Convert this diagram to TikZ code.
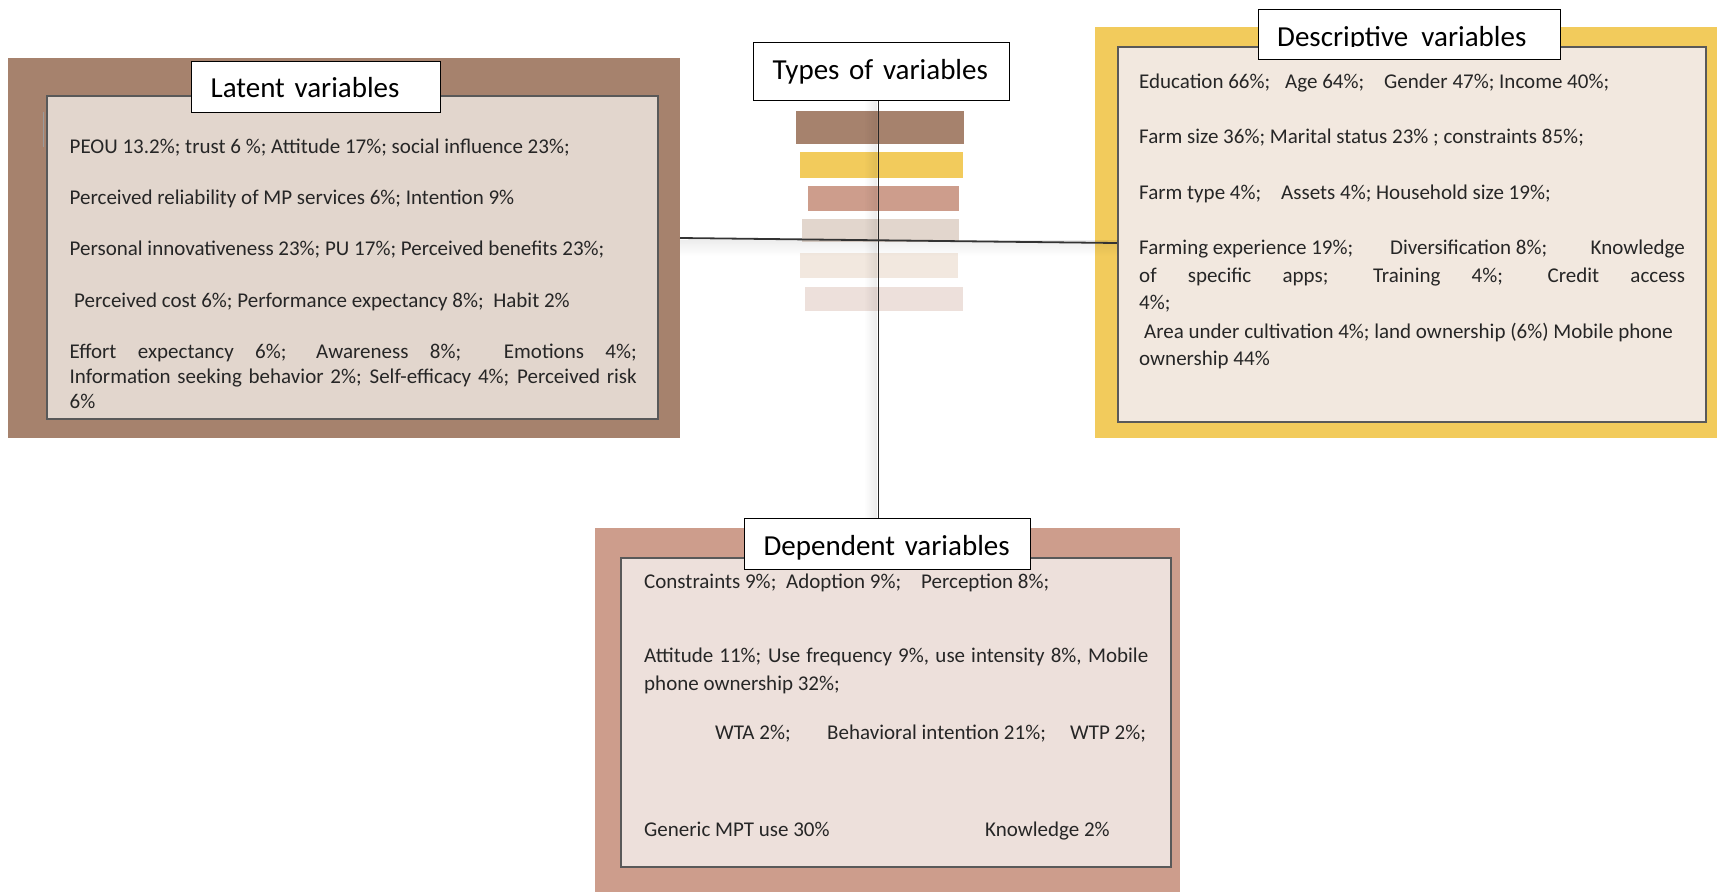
\documentclass[tikz,border=0pt]{standalone}
\usepackage{fontspec}
\setmainfont{Carlito}
\usetikzlibrary{fadings}

\definecolor{latbrown}{HTML}{A6826D}
\definecolor{latpale}{HTML}{E2D6CD}
\definecolor{desyellow}{HTML}{F2CB5C}
\definecolor{despale}{HTML}{F2E8DF}
\definecolor{deprose}{HTML}{CD9D8C}
\definecolor{deppale}{HTML}{EDE0DB}
\definecolor{framegrey}{HTML}{595959}
\definecolor{inkgrey}{HTML}{262626}

\tikzfading[name=shadeleft, left color=transparent!100, right color=transparent!0]
\tikzfading[name=shadedown, top color=transparent!0, bottom color=transparent!100]

\begin{document}
\begin{tikzpicture}[x=1pt,y=-1pt,
    outer/.style={inner sep=0pt, outer sep=0pt},
    frame/.style={draw=framegrey, line width=2.5pt, inner sep=0pt},
    head/.style={draw=black, fill=white, line width=1.2pt, anchor=north west,
        inner xsep=19pt, inner ysep=0pt, align=left, font=\fontsize{29}{34}\selectfont},
    txt/.style={anchor=base west, inner sep=0pt, text=inkgrey, font=\fontsize{21}{25}\selectfont}]

    \useasboundingbox (0,0) rectangle (1717,892);

    % Place the boxes
    \node[outer, fill=latbrown, minimum width=672pt, minimum height=380pt] (latout) at (344,248) {};
    \node[frame, fill=latpale, minimum width=611pt, minimum height=323pt] (latin) at (352.5,257.5) {};
    \node[outer, fill=desyellow, minimum width=622pt, minimum height=411pt] (desout) at (1406,232.5) {};
    \node[frame, fill=despale, minimum width=588pt, minimum height=375pt] (desin) at (1412,234.5) {};
    \node[outer, fill=deprose, minimum width=585pt, minimum height=364pt] (depout) at (887.5,710) {};
    \node[frame, fill=deppale, minimum width=550pt, minimum height=309pt] (depin) at (896,712.5) {};
    \draw[framegrey!60, line width=1pt] (43,112) -- (43,147);

    % The colour key under the middle title
    \fill[latbrown] (796,111) rectangle (964,144);
    \fill[desyellow] (800,152) rectangle (963,178);
    \fill[deprose] (808,186) rectangle (959,211);
    \fill[latpale] (802,219) rectangle (959,242);
    \fill[despale] (800,253) rectangle (958,278);
    \fill[deppale] (805,287) rectangle (963,311);

    % The titles
    \node[head, text width=211pt, text height=36pt, text depth=15pt] (lattitle) at (191,61) {Latent variables};
    \node[head, text width=218pt, text height=37pt, text depth=21pt] (typetitle) at (753,42) {Types of variables};
    \node[head, text width=264pt, text height=37pt, text depth=13pt] (destitle) at (1258,9) {};
    \begin{scope}
        \clip (1259,10) rectangle (1559,46.5);
        \node[anchor=base west, inner sep=0pt, font=\fontsize{29}{34}\selectfont] (destext) at (1277,46) {Descriptive\ \ variables};
    \end{scope}
    \node[head, text width=248pt, text height=37pt, text depth=14pt] (deptitle) at (744,518) {Dependent variables};

    % Draw the lines
    \fill[black, fill opacity=0.08, path fading=shadeleft] (864,100) rectangle (877,518);
    \fill[black, fill opacity=0.07, path fading=shadedown] (680,240) rectangle (1118,256);
    \draw[line width=1.6pt, black!85] ([xshift=-3pt]typetitle.south) -- ([xshift=-3pt]typetitle.south |- deptitle.north);
    \draw[line width=1.8pt, black!80] ([yshift=10pt]latout.east) -- ([yshift=-8.5pt]desin.west);

    % Latent variables
    \node[txt] (lat1) at (69.5,153.5) {PEOU 13.2\%; trust 6 \%; Attitude 17\%; social influence 23\%;};
    \node[txt] (lat2) at (69.5,204.5) {Perceived reliability of MP services 6\%; Intention 9\%};
    \node[txt] (lat3) at (69.5,255.5) {Personal innovativeness 23\%; PU 17\%; Perceived benefits 23\%;};
    \node[txt] (lat4) at (74,307.5) {Perceived cost 6\%; Performance expectancy 8\%;\ \ Habit 2\%};
    \node[txt] (lat5) at (69.5,358.5) {\makebox[567pt][s]{Effort expectancy 6\%; Awareness 8\%;\ \ Emotions 4\%;}};
    \node[txt] (lat6) at (69.5,383.5) {\makebox[567pt][s]{Information seeking behavior 2\%; Self-efficacy 4\%; Perceived risk}};
    \node[txt] (lat7) at (69.5,408.5) {6\%};

    % Descriptive variables
    \node[txt] (des1a) at (1139,88.5) {Education 66\%;};
    \node[txt] (des1b) at (1285,88.5) {Age 64\%;};
    \node[txt] (des1c) at (1384,88.5) {Gender 47\%; Income 40\%;};
    \node[txt] (des2) at (1139,143.5) {Farm size 36\%; Marital status 23\% ; constraints 85\%;};
    \node[txt] (des3a) at (1139,199.5) {Farm type 4\%;};
    \node[txt] (des3b) at (1281,199.5) {Assets 4\%; Household size 19\%;};
    \node[txt] (des4a) at (1139,254.5) {Farming experience 19\%;};
    \node[txt] (des4b) at (1390,254.5) {Diversification 8\%;};
    \node[txt, anchor=base east] (des4c) at (1685,254.5) {Knowledge};
    \node[txt] (des5) at (1139,282.5) {\makebox[546pt][s]{of specific apps; Training 4\%; Credit access}};
    \node[txt] (des6) at (1139,309.5) {4\%;};
    \node[txt] (des7) at (1144,338.5) {Area under cultivation 4\%; land ownership (6\%) Mobile phone};
    \node[txt] (des8) at (1139,365.5) {ownership 44\%};

    % Dependent variables
    \node[txt] (dep1a) at (644,588.5) {Constraints 9\%;};
    \node[txt] (dep1b) at (786,588.5) {Adoption 9\%;};
    \node[txt] (dep1c) at (921,588.5) {Perception 8\%;};
    \node[txt] (dep2) at (644,662.5) {\makebox[504pt][s]{Attitude 11\%; Use frequency 9\%, use intensity 8\%, Mobile}};
    \node[txt] (dep3) at (644,690.5) {phone ownership 32\%;};
    \node[txt] (dep4a) at (715,739.5) {WTA 2\%;};
    \node[txt] (dep4b) at (827,739.5) {Behavioral intention 21\%;};
    \node[txt] (dep4c) at (1070,739.5) {WTP 2\%;};
    \node[txt] (dep5a) at (644,836.5) {Generic MPT use 30\%};
    \node[txt] (dep5b) at (985,836.5) {Knowledge 2\%};

\end{tikzpicture}
\end{document}
